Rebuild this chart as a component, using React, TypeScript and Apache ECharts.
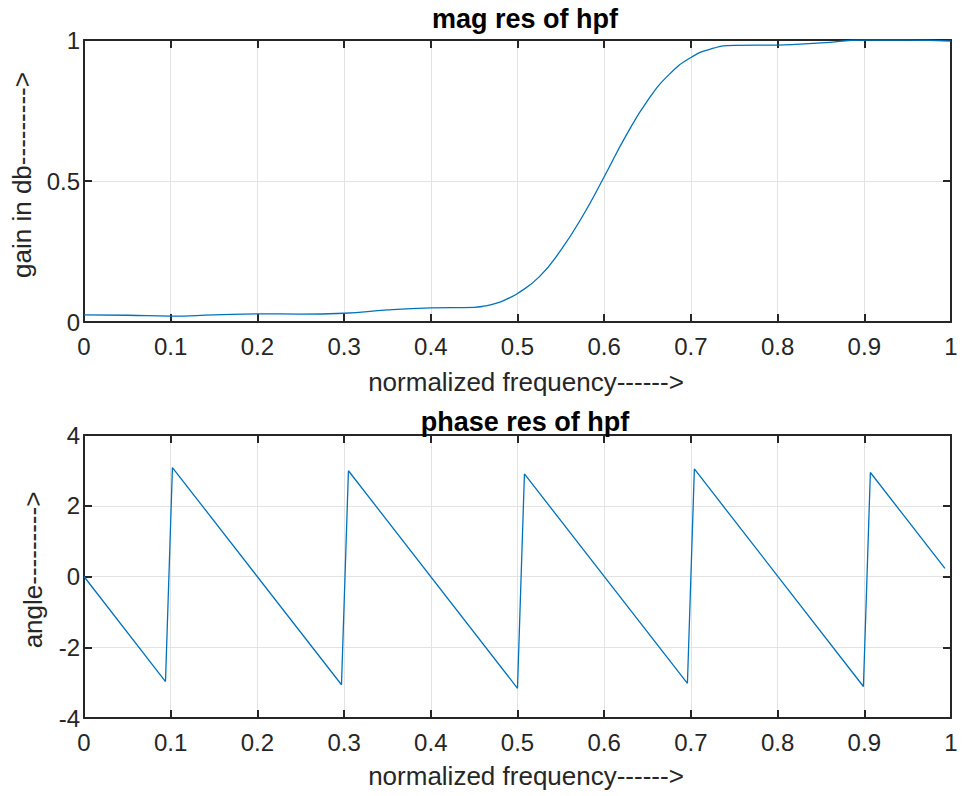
import React, { useEffect, useRef } from "react";
import * as echarts from "echarts";

// magnitude response
const magFreq = [0, 0.05, 0.1, 0.15, 0.2, 0.25, 0.3, 0.35, 0.4, 0.45, 0.4625, 0.475, 0.4875, 0.5, 0.525, 0.55, 0.575, 0.6, 0.625, 0.65, 0.675, 0.7, 0.725, 0.75, 0.8, 0.85, 0.9, 0.95, 1.0];
const magGain = [0.025, 0.024, 0.021, 0.025, 0.029, 0.028, 0.031, 0.043, 0.05, 0.052, 0.057, 0.066, 0.081, 0.101, 0.16, 0.255, 0.375, 0.515, 0.66, 0.785, 0.878, 0.938, 0.97, 0.981, 0.982, 0.99, 1.0, 1.0, 0.996];

// phase response vertices
const phaseFreq = [0, 0.094, 0.102, 0.297, 0.305, 0.5, 0.508, 0.696, 0.704, 0.899, 0.907, 0.993];
const phaseAngle = [0, -2.97, 3.08, -3.06, 2.99, -3.16, 2.9, -3.02, 3.04, -3.11, 2.94, 0.23];

const titles = ["mag res of hpf", "phase res of hpf"];
const xName = "normalized frequency------>";
const yNames = ["gain in db--------->", "angle--------->"];

const FONT = "'Liberation Sans', Arial, Helvetica, sans-serif";
const AX = "#262626";
const LINE = "#0072BD";
const GRIDC = "#e3e3e3";

export default function App() {
  const ref = useRef<HTMLDivElement>(null);
  useEffect(() => {
    if (!ref.current) return;
    const chart = echarts.init(ref.current, undefined, { renderer: "svg" });

    const xAxisBase = (gridIndex: number, position: "bottom" | "top", main: boolean) => ({
      type: "value",
      gridIndex,
      position,
      min: 0,
      max: 1,
      interval: 0.1,
      axisLine: { show: true, onZero: false, lineStyle: { color: AX, width: 2 } },
      axisTick: { show: true, inside: true, length: 8, lineStyle: { color: AX, width: 2 } },
      axisLabel: { show: main, color: AX, fontSize: 24, fontFamily: FONT, margin: 12 },
      splitLine: { show: main, lineStyle: { color: GRIDC, width: 1 } },
    });
    const yAxisBase = (gridIndex: number, position: "left" | "right", main: boolean, min: number, max: number, interval: number) => ({
      type: "value",
      gridIndex,
      position,
      min,
      max,
      interval,
      axisLine: { show: true, onZero: false, lineStyle: { color: AX, width: 2 } },
      axisTick: { show: true, inside: true, length: 8, lineStyle: { color: AX, width: 2 } },
      axisLabel: { show: main, color: AX, fontSize: 24, fontFamily: FONT, margin: 4 },
      splitLine: { show: main, lineStyle: { color: GRIDC, width: 1 } },
    });

    const text = (t: string, x: number, y: number, size: number, bold: boolean, rot = 0) => ({
      type: "text",
      x,
      y,
      rotation: rot,
      style: {
        text: t,
        fill: bold ? "#000" : AX,
        font: `${bold ? "bold " : ""}${size}px ${FONT}`,
        align: "center",
        verticalAlign: "middle",
      },
      z: 10,
    });

    chart.setOption({
      animation: false,
      backgroundColor: "#fff",
      grid: [
        { left: 84, top: 40, width: 867, height: 282, containLabel: false },
        { left: 84, top: 435, width: 867, height: 283, containLabel: false },
      ],
      xAxis: [
        xAxisBase(0, "bottom", true),
        xAxisBase(0, "top", false),
        xAxisBase(1, "bottom", true),
        xAxisBase(1, "top", false),
      ],
      yAxis: [
        yAxisBase(0, "left", true, 0, 1, 0.5),
        yAxisBase(0, "right", false, 0, 1, 0.5),
        yAxisBase(1, "left", true, -4, 4, 2),
        yAxisBase(1, "right", false, -4, 4, 2),
      ],
      series: [
        {
          type: "line",
          xAxisIndex: 0,
          yAxisIndex: 0,
          data: magFreq.map((f, i) => [f, magGain[i]]),
          smooth: 0.5,
          showSymbol: false,
          lineStyle: { color: LINE, width: 1.3 },
        },
        {
          type: "line",
          xAxisIndex: 2,
          yAxisIndex: 2,
          data: phaseFreq.map((f, i) => [f, phaseAngle[i]]),
          showSymbol: false,
          lineStyle: { color: LINE, width: 1.3 },
        },
      ],
      graphic: [
        text(titles[0], 525, 19, 27, true),
        text(xName, 526, 382, 26, false),
        text(titles[1], 525, 422, 27, true),
        text(xName, 526, 776, 26, false),
        text(yNames[0], 22, 175, 26, false, Math.PI / 2),
        text(yNames[1], 33, 570, 26, false, Math.PI / 2),
      ],
    });
    return () => chart.dispose();
  }, []);
  return (
    <div
      ref={ref}
      style={{ position: "fixed", left: 0, top: 0, width: 965, height: 796, background: "#fff" }}
    />
  );
}
